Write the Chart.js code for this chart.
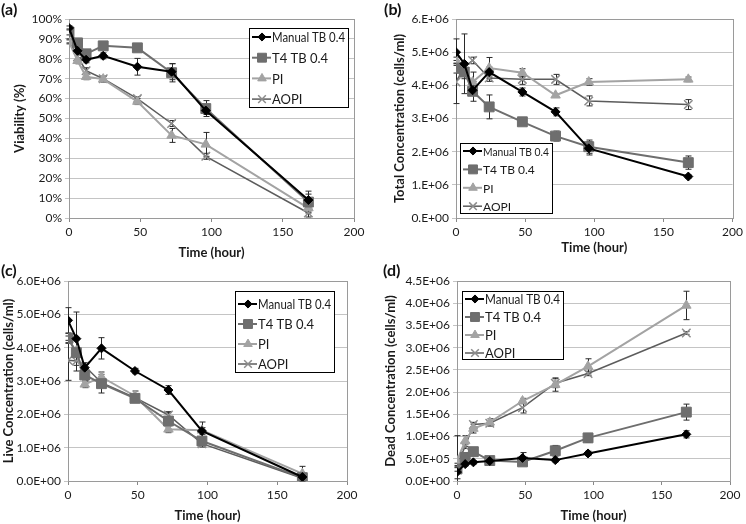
<!DOCTYPE html>
<html>
<head>
<meta charset="utf-8">
<script src="https://cdn.jsdelivr.net/npm/chart.js@4.4.1/dist/chart.umd.min.js"></script>
<style>
    html, body { margin: 0; padding: 0; background: #fff; }
    #page { position: relative; width: 746px; height: 524px; overflow: hidden; }
    .panel { position: absolute; width: 373px; height: 262px; }
    .tag { position: absolute; font: bold 16px Lato, sans-serif; color: #111; }
</style>
</head>
<body>
<div id="page">
    <div class="panel" style="left:0;top:0"><canvas id="chartA" width="373" height="262"></canvas></div>
    <div class="panel" style="left:373px;top:0"><canvas id="chartB" width="373" height="262"></canvas></div>
    <div class="panel" style="left:0;top:262px"><canvas id="chartC" width="373" height="262"></canvas></div>
    <div class="panel" style="left:373px;top:262px"><canvas id="chartD" width="373" height="262"></canvas></div>
    <div class="tag" style="left:1px;top:-1px">(a)</div>
    <div class="tag" style="left:384px;top:-1px">(b)</div>
    <div class="tag" style="left:1px;top:260px">(c)</div>
    <div class="tag" style="left:383px;top:260px">(d)</div>
</div>
<script>
// Sampling times (hours)
const hours = [0, 6, 12, 24, 48, 72, 96, 168];
const seriesNames = ['Manual TB 0.4', 'T4 TB 0.4', 'PI', 'AOPI'];

// (a) viability, %
const viaManual = [95.5, 84, 79.5, 81.5, 76, 73.5, 54, 9];
const viaManualErr = [1, 1.5, 1.5, 1.5, 4.2, 4, 2, 3];
const viaT4 = [93.5, 88, 82.5, 86.5, 85.5, 73, 55, 8];
const viaT4Err = [1.5, 1.5, 2, 1, 1, 4.6, 4, 5.5];
const viaPI = [88.5, 79, 71, 69.8, 58.5, 41.5, 37, 5];
const viaPIErr = [1, 1.5, 1.5, 1.5, 1.5, 3.5, 6, 2];
const viaAOPI = [89, 81, 74, 70, 60, 47.5, 31, 2.5];
const viaAOPIErr = [1, 1, 1.5, 1, 1, 1.5, 1.5, 2];

// (b) total concentration, cells/ml
const totManual = [5.0e6, 4.65e6, 3.85e6, 4.4e6, 3.8e6, 3.2e6, 2.1e6, 1.25e6];
const totManualErr = [0.4e6, 0.9e6, 0.15e6, 0.15e6, 0.12e6, 0.12e6, 0.2e6, 0.05e6];
const totT4 = [4.52e6, 4.4e6, 3.82e6, 3.35e6, 2.9e6, 2.47e6, 2.15e6, 1.67e6];
const totT4Err = [0.15e6, 0.2e6, 0.3e6, 0.36e6, 0.08e6, 0.15e6, 0.2e6, 0.2e6];
const totPI = [4.75e6, 4.45e6, 4.1e6, 4.52e6, 4.38e6, 3.7e6, 4.1e6, 4.18e6];
const totPIErr = [0.1e6, 0.15e6, 0.3e6, 0.32e6, 0.12e6, 0.05e6, 0.1e6, 0.07e6];
const totAOPI = [4.1e6, 4.55e6, 4.75e6, 4.22e6, 4.18e6, 4.18e6, 3.53e6, 3.42e6];
const totAOPIErr = [0.65e6, 0.1e6, 0.1e6, 0.1e6, 0.15e6, 0.15e6, 0.15e6, 0.15e6];

// (c) live concentration, cells/ml
const liveManual = [4.82e6, 4.27e6, 3.4e6, 3.98e6, 3.3e6, 2.73e6, 1.5e6, 0.12e6];
const liveManualErr = [0.38e6, 0.8e6, 0.1e6, 0.32e6, 0.08e6, 0.13e6, 0.1e6, 0.05e6];
const liveT4 = [4.28e6, 3.85e6, 3.18e6, 2.92e6, 2.48e6, 1.8e6, 1.2e6, 0.1e6];
const liveT4Err = [0.15e6, 0.1e6, 0.15e6, 0.28e6, 0.1e6, 0.25e6, 0.1e6, 0.05e6];
const livePI = [4.25e6, 3.9e6, 2.9e6, 3.12e6, 2.55e6, 1.55e6, 1.52e6, 0.22e6];
const livePIErr = [0.1e6, 0.1e6, 0.1e6, 0.15e6, 0.15e6, 0.1e6, 0.25e6, 0.22e6];
const liveAOPI = [3.62e6, 3.6e6, 3.45e6, 2.95e6, 2.5e6, 1.98e6, 1.12e6, 0.08e6];
const liveAOPIErr = [0.6e6, 0.3e6, 0.1e6, 0.1e6, 0.1e6, 0.1e6, 0.1e6, 0.05e6];

// (d) dead concentration, cells/ml
const deadManual = [0.2e6, 0.38e6, 0.42e6, 0.45e6, 0.52e6, 0.47e6, 0.62e6, 1.05e6];
const deadManualErr = [0.15e6, 0.04e6, 0.04e6, 0.03e6, 0.12e6, 0.04e6, 0.05e6, 0.08e6];
const deadT4 = [0.27e6, 0.53e6, 0.66e6, 0.46e6, 0.43e6, 0.68e6, 0.97e6, 1.55e6];
const deadT4Err = [0.05e6, 0.05e6, 0.05e6, 0.04e6, 0.05e6, 0.12e6, 0.1e6, 0.18e6];
const deadPI = [0.45e6, 0.9e6, 1.18e6, 1.32e6, 1.8e6, 2.17e6, 2.58e6, 3.95e6];
const deadPIErr = [0.57e6, 0.12e6, 0.1e6, 0.08e6, 0.06e6, 0.15e6, 0.17e6, 0.32e6];
const deadAOPI = [0.35e6, 0.78e6, 1.27e6, 1.3e6, 1.65e6, 2.2e6, 2.42e6, 3.33e6];
const deadAOPIErr = [0.05e6, 0.05e6, 0.05e6, 0.06e6, 0.12e6, 0.1e6, 0.05e6, 0.03e6];

const FONT = 'Lato, sans-serif';
const TEXT = '#1a1a1a';

// Excel style "0.E+00" / "0.0E+00" labels
function sci(v, digits) {
    if (Math.abs(v) < 1e-9) return (0).toFixed(digits) + (digits ? '' : '.') + 'E+00';
    const exp = Math.floor(Math.log10(v) + 1e-9);
    const mant = v / Math.pow(10, exp);
    return mant.toFixed(digits) + (digits ? '' : '.') + 'E+' + String(exp).padStart(2, '0');
}

// series styles (marker look of the original)
const looks = [
    { line: '#000000', fill: '#000000', edge: '#000000', style: 'rectRot', r: 4.5, width: 2 },
    { line: '#6e6e6e', fill: '#6e6e6e', edge: '#6e6e6e', style: 'rect', r: 7, width: 2 },
    { line: '#a3a3a3', fill: '#a3a3a3', edge: '#a3a3a3', style: 'triangle', r: 5.5, width: 2 },
    { line: '#5c5c5c', fill: '#8c8c8c', edge: '#8c8c8c', style: 'crossRot', r: 6, width: 1.5 }
];

function makeSets(values, errs) {
    return values.map((vals, i) => ({
        label: seriesNames[i],
        data: hours.map((h, k) => ({ x: h, y: vals[k] })),
        errors: errs[i],
        showLine: true,
        borderColor: looks[i].line,
        backgroundColor: looks[i].fill,
        borderWidth: looks[i].width,
        pointStyle: looks[i].style,
        pointRadius: looks[i].r,
        pointBackgroundColor: looks[i].fill,
        pointBorderColor: looks[i].edge,
        pointBorderWidth: looks[i].style === 'crossRot' ? 1.5 : 1,
        tension: 0
    }));
}

// plot-area frame
const frame = {
    id: 'frame',
    beforeDatasetsDraw(chart) {
        const { ctx, chartArea: a } = chart;
        ctx.save();
        ctx.strokeStyle = '#9a9a9a';
        ctx.lineWidth = 1;
        ctx.strokeRect(Math.round(a.left) + 0.5, Math.round(a.top) + 0.5,
            Math.round(a.right - a.left), Math.round(a.bottom - a.top));
        ctx.restore();
    }
};

// vertical error bars with caps
const errorBars = {
    id: 'errorBars',
    beforeDatasetsDraw(chart) {
        const ctx = chart.ctx;
        const xs = chart.scales.x, ys = chart.scales.y;
        ctx.save();
        ctx.strokeStyle = '#2a2a2a';
        ctx.lineWidth = 1;
        chart.data.datasets.forEach(ds => {
            if (!ds.errors) return;
            ds.data.forEach((p, k) => {
                const e = ds.errors[k];
                if (!e) return;
                const px = Math.round(xs.getPixelForValue(p.x)) + 0.5;
                const top = ys.getPixelForValue(p.y + e);
                const bot = ys.getPixelForValue(Math.max(p.y - e, ys.min));
                ctx.beginPath();
                ctx.moveTo(px, top); ctx.lineTo(px, bot);
                ctx.moveTo(px - 3, top); ctx.lineTo(px + 3, top);
                if (p.y - e >= ys.min) { ctx.moveTo(px - 3, bot); ctx.lineTo(px + 3, bot); }
                ctx.stroke();
            });
        });
        ctx.restore();
    }
};

// boxed legend placed inside the panel like the Excel original
const boxLegend = {
    id: 'boxLegend',
    afterDraw(chart, args, o) {
        const ctx = chart.ctx;
        ctx.save();
        ctx.fillStyle = '#fff';
        ctx.fillRect(o.x, o.y, o.w, o.h);
        ctx.strokeStyle = '#000';
        ctx.lineWidth = 1;
        ctx.strokeRect(o.x + 0.5, o.y + 0.5, o.w, o.h);
        ctx.font = o.size + 'px ' + FONT;
        ctx.textBaseline = 'middle';
        chart.data.datasets.forEach((ds, i) => {
            const cy = o.y + o.first + i * o.row;
            const x0 = o.x + 3;
            ctx.strokeStyle = ds.borderColor;
            ctx.lineWidth = ds.borderWidth;
            ctx.beginPath();
            ctx.moveTo(x0, cy); ctx.lineTo(x0 + 19, cy);
            ctx.stroke();
            ctx.fillStyle = ds.pointBackgroundColor;
            ctx.strokeStyle = ds.pointBorderColor;
            ctx.lineWidth = ds.pointBorderWidth;
            Chart.helpers.drawPoint(ctx, {
                pointStyle: ds.pointStyle,
                radius: ds.pointRadius * 0.9,
                borderWidth: ds.pointBorderWidth,
                rotation: 0
            }, x0 + 10, cy);
            ctx.fillStyle = TEXT;
            // squeeze to the box width, as Lato runs wider than the original face
            ctx.fillText(ds.label, x0 + 20, cy + 1, o.x + o.w - (x0 + 20) - 3);
        });
        ctx.restore();
    }
};

function makeChart(id, cfg) {
    return new Chart(document.getElementById(id), {
        type: 'scatter',
        data: { datasets: makeSets(cfg.values, cfg.errs) },
        options: {
            responsive: false,
            animation: false,
            events: [],
            layout: { padding: { left: 0, top: cfg.area.top, right: cfg.area.right, bottom: 0 } },
            plugins: {
                legend: { display: false },
                tooltip: { enabled: false },
                boxLegend: cfg.legend
            },
            scales: {
                x: {
                    type: 'linear',
                    min: 0, max: 200,
                    afterFit: s => { s.height = 262 - cfg.area.bottom; },
                    ticks: { stepSize: 50, color: TEXT, padding: 3, font: { family: FONT, size: 12 } },
                    grid: { display: true, drawOnChartArea: false, tickLength: 4, color: '#888' },
                    border: { color: '#888' },
                    title: {
                        display: true, text: 'Time (hour)', color: TEXT,
                        font: { family: FONT, size: 13, weight: 'bold' },
                        padding: { top: 0, bottom: cfg.xTitlePad }
                    }
                },
                y: {
                    min: cfg.yMin, max: cfg.yMax,
                    afterFit: s => { s.width = cfg.area.left; },
                    ticks: {
                        stepSize: cfg.yStep, color: TEXT, padding: 3,
                        font: { family: FONT, size: 12 },
                        callback: cfg.yFmt
                    },
                    grid: { color: '#c4c4c4', tickLength: 4 },
                    border: { color: '#888' },
                    title: {
                        display: true, text: cfg.yTitle, color: TEXT,
                        font: { family: FONT, size: 13, weight: 'bold' },
                        padding: { top: cfg.yTitlePad, bottom: 0 }
                    }
                }
            }
        },
        plugins: [frame, errorBars, boxLegend]
    });
}

makeChart('chartA', {
    values: [viaManual, viaT4, viaPI, viaAOPI],
    errs: [viaManualErr, viaT4Err, viaPIErr, viaAOPIErr],
    area: { left: 69, top: 19, right: 19, bottom: 218 },
    yMin: 0, yMax: 100, yStep: 10,
    yFmt: v => v + '%',
    yTitle: 'Viability (%)', yTitlePad: 12, xTitlePad: 1,
    legend: { x: 249, y: 28, w: 99, h: 79, first: 9, row: 20.7, size: 13 }
});

makeChart('chartB', {
    values: [totManual, totT4, totPI, totAOPI],
    errs: [totManualErr, totT4Err, totPIErr, totAOPIErr],
    area: { left: 83, top: 19, right: 10, bottom: 218 },
    yMin: 0, yMax: 6e6, yStep: 1e6,
    yFmt: v => sci(v, 0),
    yTitle: 'Total Concentration (cells/ml)', yTitlePad: 19, xTitlePad: 6,
    legend: { x: 87, y: 143, w: 92, h: 70, first: 8, row: 18.4, size: 12 }
});

makeChart('chartC', {
    values: [liveManual, liveT4, livePI, liveAOPI],
    errs: [liveManualErr, liveT4Err, livePIErr, liveAOPIErr],
    area: { left: 68, top: 19, right: 26, bottom: 219 },
    yMin: 0, yMax: 6e6, yStep: 1e6,
    yFmt: v => sci(v, 1),
    yTitle: 'Live Concentration (cells/ml)', yTitlePad: 1, xTitlePad: 0,
    legend: { x: 235, y: 29, w: 99, h: 81, first: 13, row: 20, size: 13 }
});

makeChart('chartD', {
    values: [deadManual, deadT4, deadPI, deadAOPI],
    errs: [deadManualErr, deadT4Err, deadPIErr, deadAOPIErr],
    area: { left: 84, top: 19, right: 16, bottom: 219 },
    yMin: 0, yMax: 4.5e6, yStep: 0.5e6,
    yFmt: v => sci(v, 1),
    yTitle: 'Dead Concentration (cells/ml)', yTitlePad: 10, xTitlePad: 0,
    legend: { x: 89, y: 29, w: 101, h: 68, first: 8, row: 18, size: 13 }
});
</script>
</body>
</html>
